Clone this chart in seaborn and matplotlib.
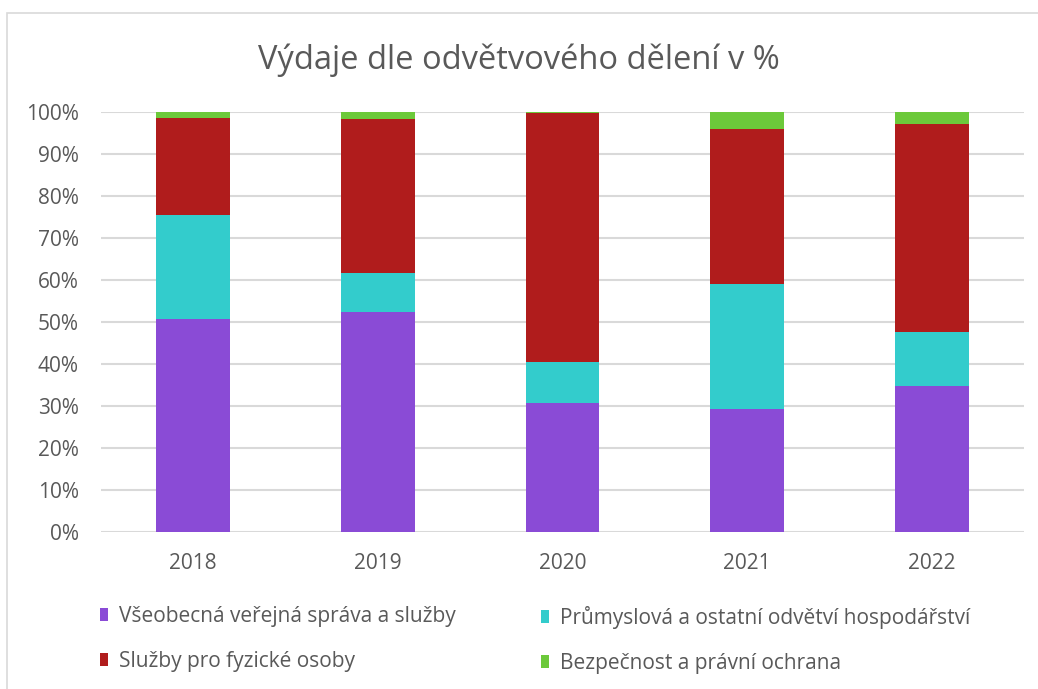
import numpy as np
import pandas as pd
import matplotlib
matplotlib.use("Agg")
import matplotlib.pyplot as plt
from matplotlib.patches import Patch, Rectangle
from matplotlib.ticker import FuncFormatter
import seaborn as sns

years = ["2018", "2019", "2020", "2021", "2022"]
series_names = [
    "Všeobecná veřejná správa a služby",
    "Průmyslová a ostatní odvětví hospodářství",
    "Služby pro fyzické osoby",
    "Bezpečnost a právní ochrana",
]
vseobecna = [50.7, 52.5, 30.7, 29.4, 34.8]
prumyslova = [24.8, 9.2, 9.8, 29.6, 12.8]
sluzby = [23.0, 36.6, 59.2, 37.0, 49.5]
bezpecnost = [1.5, 1.7, 0.3, 4.0, 2.9]
colors = ["#8a4bd6", "#33cccc", "#b01c1c", "#6cc93a"]

sns.set_theme(style="white")
plt.rcParams["font.family"] = ["Open Sans", "DejaVu Sans"]

values = [vseobecna, prumyslova, sluzby, bezpecnost]
df = pd.DataFrame({"year": years})
cum = np.zeros(len(years))
for name, v in zip(series_names, values):
    cum = cum + np.array(v)
    df[name] = cum

fig = plt.figure(figsize=(10.38, 6.89), dpi=100)
ax = fig.add_axes([101 / 1038, 1 - 532 / 689, (1024 - 101) / 1038, (532 - 112) / 689])

# draw from the top layer down so lower layers cover the cumulative bars
for name, col in reversed(list(zip(series_names, colors))):
    sns.barplot(data=df, x="year", y=name, color=col, width=0.4,
                saturation=1, linewidth=0, ax=ax, zorder=3)

ax.set_ylim(0, 100)
ax.set_xlim(-0.5, 4.5)
ax.set_yticks(np.arange(0, 101, 10))
ax.yaxis.set_major_formatter(FuncFormatter(lambda v, p: f"{int(v)}%"))
ax.grid(axis="y", color="#d9d9d9", linewidth=1.5, zorder=0)
ax.set_axisbelow(True)
for s in ax.spines.values():
    s.set_visible(False)
ax.set_xlabel("")
ax.set_ylabel("")
ax.tick_params(axis="both", length=0, labelsize=15, colors="#595959")
ax.tick_params(axis="y", pad=16)
ax.tick_params(axis="x", pad=15)

fig.text(0.5, 1 - 60 / 689, "Výdaje dle odvětvového dělení v %", ha="center",
         va="center", fontsize=23.5, color="#595959")

handles = [Patch(facecolor=c, edgecolor="none") for c in colors]
common = dict(loc="upper left", frameon=False, fontsize=15, labelcolor="#595959",
              handlelength=0.4, handleheight=0.55, handletextpad=0.5,
              labelspacing=1.15, borderpad=0, borderaxespad=0)
fig.legend([handles[0], handles[2]], [series_names[0], series_names[2]],
           bbox_to_anchor=(100 / 1038, 1 - 606 / 689), **common)
fig.legend([handles[1], handles[3]], [series_names[1], series_names[3]],
           bbox_to_anchor=(541 / 1038, 1 - 606 / 689), **common)

fig.add_artist(Rectangle((7 / 1038, -0.2), 1.5, 1.2 - 13 / 689,
                         transform=fig.transFigure, fill=False,
                         edgecolor="#d9d9d9", linewidth=1.2))

fig.savefig("out.png", dpi=100)
